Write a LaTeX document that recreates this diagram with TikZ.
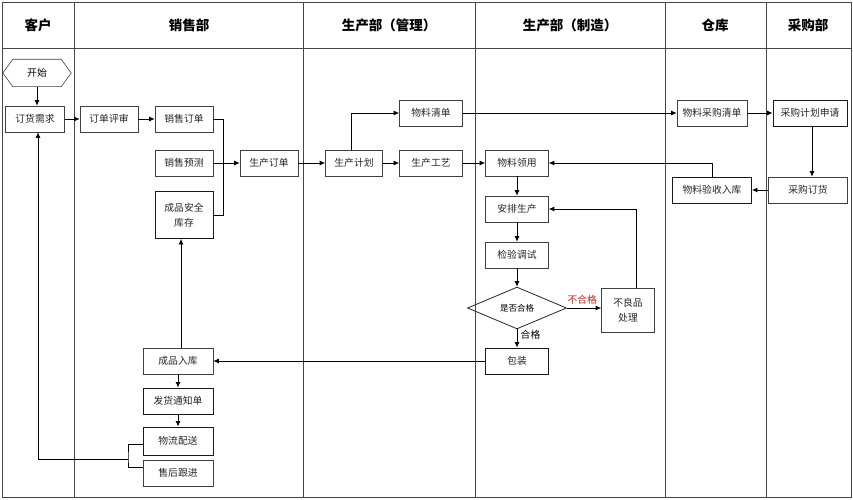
\documentclass[tikz,border=0pt]{standalone}
\usepackage{fontspec}
\newfontfamily\cjk{Noto Sans CJK SC}
\usetikzlibrary{shapes.geometric,arrows.meta}
\definecolor{redlab}{RGB}{180,40,40}
\definecolor{frame}{RGB}{70,70,70}
\begin{document}
\begin{tikzpicture}[x=1pt,y=-1pt,
  font=\cjk\fontsize{9.8}{12}\selectfont,
  box/.style={draw=black!75, line width=0.6pt, minimum height=26pt, inner sep=0pt, align=center, text=black!85},
  boxb/.style={box, line width=0.9pt, draw=black!90},
  arr/.style={-{Latex[length=5.5pt,width=5pt]}, line width=0.8pt},
  ln/.style={line width=0.8pt},
  head/.style={font=\cjk\fontsize{13.5}{15}\selectfont\bfseries}]
\useasboundingbox (0,0) rectangle (853,500);
% frame
\draw[frame, line width=0.9pt] (2,2) rectangle (851,497);
\draw[frame, line width=0.9pt] (2,48) -- (851,48);
\foreach \xx in {74,303,475,665,766} \draw[frame, line width=0.9pt] (\xx,2) -- (\xx,497);
% headers
\node[head] (h1) at (38,25) {客户};
\node[head] (h2) at (189,25) {销售部};
\node[head] (h3) at (389,25) {生产部（管理）};
\node[head] (h4) at (570,25) {生产部（制造）};
\node[head] (h5) at (715,25) {仓库};
\node[head] (h6) at (808,25) {采购部};
% nodes
\node[minimum width=68pt, minimum height=27pt, inner sep=0pt] (start) at (37,73) {开始};
\draw[black!75, line width=0.6pt] (start.west) -- ([xshift=10pt]start.north west) -- ([xshift=-10pt]start.north east) -- (start.east) -- ([xshift=-10pt]start.south east) -- ([xshift=10pt]start.south west) -- cycle;
\node[box, minimum width=59pt] (dh) at (35,119) {订货需求};
\node[box, minimum width=58pt] (ps) at (109,119) {订单评审};
\node[box, minimum width=58pt] (xsdd) at (184,119) {销售订单};
\node[box, minimum width=58pt] (xsyc) at (184,163) {销售预测};
\node[boxb, minimum width=58pt, minimum height=47pt] (kc) at (184,215) {成品安全\\[3pt]库存};
\node[box, minimum width=58pt] (scdd) at (269,163) {生产订单};
\node[box, minimum width=57pt] (scjh) at (354,163) {生产计划};
\node[box, minimum width=63pt] (wlqd) at (431,113) {物料清单};
\node[box, minimum width=63pt] (scgy) at (431,163) {生产工艺};
\node[box, minimum width=63pt] (wlly) at (517,163) {物料领用};
\node[box, minimum width=63pt] (apsc) at (517,209) {安排生产};
\node[box, minimum width=63pt] (jytz) at (517,255) {检验调试};
\node[draw=black!85, line width=0.8pt, diamond, minimum width=99pt, minimum height=40pt, inner sep=0pt, font=\cjk\fontsize{8.5}{10}\selectfont] (hg) at (517,308) {是否合格};
\node[box, minimum width=53pt, minimum height=44pt] (blp) at (628,310) {不良品\\[3pt]处理};
\node[boxb, minimum width=63pt] (bz) at (517,361) {包装};
\node[box, minimum width=70pt] (cgqd) at (712,113) {物料采购清单};
\node[boxb, minimum width=74pt] (cgsq) at (810,113) {采购计划申请};
\node[box, minimum width=79pt] (cgdh) at (808,190) {采购订货};
\node[boxb, minimum width=79pt] (ysrk) at (712,190) {物料验收入库};
\node[box, minimum width=70pt] (cprk) at (178,361) {成品入库};
\node[boxb, minimum width=70pt] (fh) at (178,401) {发货通知单};
\node[boxb, minimum width=70pt, minimum height=28pt] (wl) at (178,441) {物流配送};
\node[box, minimum width=70pt] (sh) at (178,473) {售后跟进};
% connectors
\draw[arr] (start.south) -- (start.south |- dh.north);
\draw[arr] (dh) -- (ps);
\draw[arr] (ps) -- (xsdd);
\draw[ln] (xsdd.east) -- ++(10,0) |- (kc.east);
\draw[arr] (xsyc) -- (scdd);
\draw[arr] (scdd) -- (scjh);
\draw[arr] ([xshift=-3pt]scjh.north) |- (wlqd.west);
\draw[arr] (scjh) -- (scgy);
\draw[arr] (scgy) -- (wlly);
\draw[arr] (wlqd) -- (cgqd);
\draw[arr] (cgqd) -- (cgsq);
\draw[arr] ([xshift=2pt]cgsq.south) -- ([xshift=2pt]cgsq.south |- cgdh.north);
\draw[arr] (cgdh) -- (ysrk);
\draw[arr] (ysrk.north) |- (wlly.east);
\draw[arr] (wlly) -- (apsc);
\draw[arr] (apsc) -- (jytz);
\draw[arr] (jytz) -- (hg);
\draw[arr] (hg.east) -- node[above, text=redlab, pos=0.45] (nl) {不合格} (hg.east -| blp.west);
\draw[arr] (hg.south) -- node[right, pos=0.3] (yl) {合格} (bz.north);
\draw[arr] ([xshift=8pt]blp.north) |- (apsc.east);
\draw[arr] (bz) -- (cprk);
\draw[arr] ([xshift=3pt]cprk.north) -- ([xshift=3pt]cprk.north |- kc.south);
\draw[arr] (cprk) -- (fh);
\draw[arr] (fh) -- (wl);
\coordinate (br2) at (128,459);
\draw[ln] ([yshift=-3pt]wl.west) -| (br2) |- ([yshift=6pt]sh.west);
\draw[arr] (br2) -| ([xshift=3pt]dh.south);
\end{tikzpicture}
\end{document}
